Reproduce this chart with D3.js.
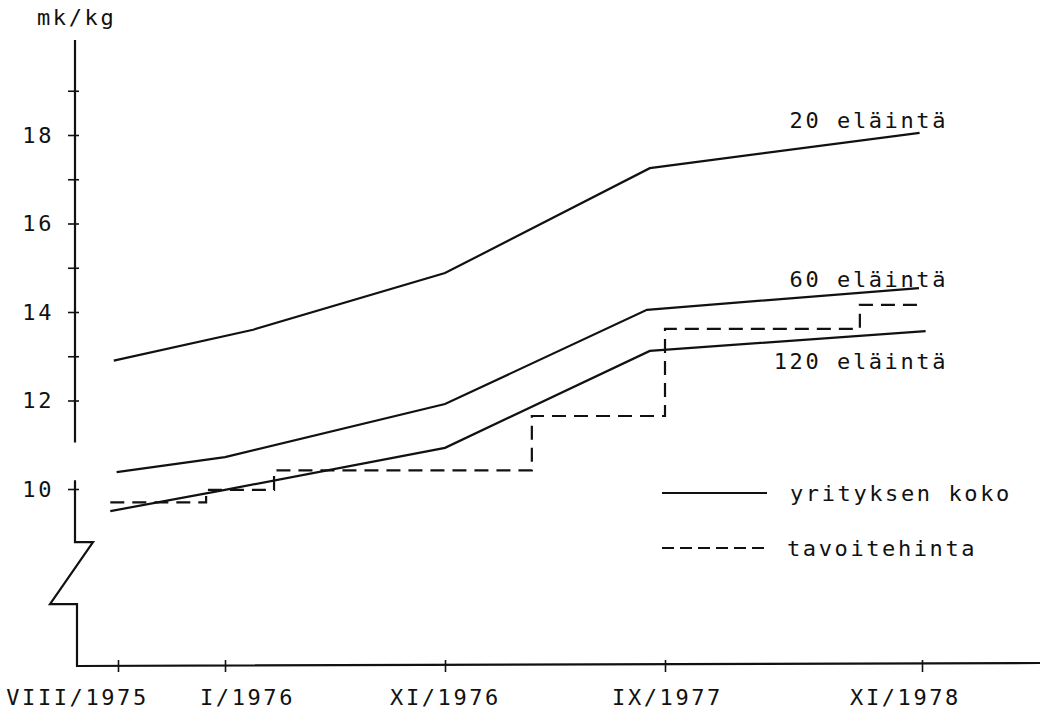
<!DOCTYPE html>
<html>
<head>
<meta charset="utf-8">
<script src="https://cdn.jsdelivr.net/npm/d3@7"></script>
<style>
  body { margin: 0; background: #fff; }
  svg text { font-family: "DejaVu Sans Mono", "Liberation Mono", monospace; font-size: 22px; letter-spacing: 2.6px; fill: #111; }
  .c-line path { fill: none; stroke: #111; stroke-width: 2.2; }
  .dotted-line path { fill: none; stroke: #111; stroke-width: 2.2; stroke-dasharray: 14, 8; }
</style>
</head>
<body>
<div id="chart"></div>
<script>
// tick labels of the time axis and the dates they stand for
const monthLabels = ['VIII/1975', 'I/1976', 'XI/1976', 'IX/1977', 'XI/1978'];
const monthDates = ['1975-08-01', '1976-01-01', '1976-11-01', '1977-09-01', '1978-11-01'];

// y ticks (mk/kg)
const yTicks = [10, 12, 13, 14, 15, 16, 17, 18, 19];
const yLabels = [10, 12, 14, 16, 18];

// yrityksen koko - price by farm size
const seriesNames = ['20 eläintä', '60 eläintä', '120 eläintä'];
const size20 = [
  { date: '1975-07-26', value: 12.9 },
  { date: '1976-02-09', value: 13.6 },
  { date: '1976-11-01', value: 14.88 },
  { date: '1977-08-11', value: 17.25 },
  { date: '1978-10-28', value: 18.05 }
];
const size60 = [
  { date: '1975-07-30', value: 10.38 },
  { date: '1976-01-01', value: 10.72 },
  { date: '1976-11-01', value: 11.92 },
  { date: '1977-08-07', value: 14.05 },
  { date: '1978-10-27', value: 14.54 }
];
const size120 = [
  { date: '1975-07-21', value: 9.5 },
  { date: '1976-01-01', value: 9.98 },
  { date: '1976-11-01', value: 10.93 },
  { date: '1977-08-11', value: 13.12 },
  { date: '1978-11-07', value: 13.57 }
];

// tavoitehinta - target price, changes at these dates
const targetDates = ['1975-07-21', '1975-12-05', '1976-03-09', '1977-03-01', '1977-09-01', '1978-07-21', '1978-11-01'];
const targetValues = [9.7, 9.98, 10.42, 11.65, 13.62, 14.16, 14.16];

const legendLabels = ['yrityksen koko', 'tavoitehinta'];

const parseDate = d3.timeParse('%Y-%m-%d');

class PriceChart {
  constructor(aims) {
    this.chartContainer = d3.select(aims);
    this.chart = null;
    this.chartWidth = 1043;
    this.chartHeight = 722;
    this.axisX = 75; // y axis position
    this.dateScale = null;
    this.priceScale = null;
  }

  render() {
    this.createSvg();
    this.initScales();
    this.drawAxes();
    this.drawLines();
    this.drawTarget();
    this.drawLabels();
    this.drawLegend();
  }

  createSvg() {
    this.chart = this.chartContainer
      .append('svg')
      .attr('width', this.chartWidth)
      .attr('height', this.chartHeight);
  }

  initScales() {
    // the original time axis is not even, so the scale is piecewise
    this.dateScale = d3.scaleTime()
      .domain(monthDates.map(parseDate))
      .range([118, 225, 445, 665, 922]);
    this.priceScale = d3.scaleLinear().domain([10, 18]).range([489, 135]);
  }

  drawAxes() {
    let y = this.priceScale;
    let x0 = this.axisX;
    let bottom = y(6);

    let yAxis = d3.axisLeft(y)
      .tickValues(yTicks)
      .tickSize(7)
      .tickPadding(14)
      .tickFormat(d => yLabels.includes(d) ? d : '');

    let gy = this.chart.append('g')
      .attr('class', 'c-axis')
      .attr('transform', 'translate(' + x0 + ', 0)')
      .call(yAxis);
    gy.select('.domain').remove();
    gy.selectAll('.tick line').attr('stroke', '#111').attr('stroke-width', 1.6);
    gy.selectAll('.tick').append('line')
      .attr('x2', 4)
      .attr('stroke', '#111')
      .attr('stroke-width', 1.6);
    gy.selectAll('.tick text').attr('font-size', null).attr('font-family', null);

    // broken y axis with a zigzag
    let axisPath = d3.path();
    axisPath.moveTo(x0, 40);
    axisPath.lineTo(x0, y(11.05));
    axisPath.moveTo(x0, y(10.2));
    axisPath.lineTo(x0, y(8.8));
    axisPath.lineTo(x0 + 18, y(8.8));
    axisPath.lineTo(x0 - 25, y(7.4));
    axisPath.lineTo(x0 + 2, y(7.4));
    axisPath.lineTo(x0 + 2, bottom);
    axisPath.lineTo(1040, bottom - 3);

    this.chart.append('path')
      .attr('d', axisPath.toString())
      .attr('fill', 'none')
      .attr('stroke', '#111')
      .attr('stroke-width', 2.2);

    let xAxis = d3.axisBottom(this.dateScale)
      .tickValues(monthDates.map(parseDate))
      .tickSize(6)
      .tickPadding(17)
      .tickFormat((d, i) => monthLabels[i]);

    let gx = this.chart.append('g')
      .attr('class', 'c-axis')
      .attr('transform', 'translate(0, ' + bottom + ')')
      .call(xAxis);
    gx.select('.domain').remove();
    gx.selectAll('.tick line').attr('y1', -6).attr('stroke', '#111').attr('stroke-width', 1.6);
    let labelShift = [-41, 22, 0, 2, -17];
    gx.selectAll('.tick text')
      .attr('font-size', null)
      .attr('font-family', null)
      .attr('dx', (d, i) => labelShift[i]);

    this.chart.append('text')
      .attr('x', 37)
      .attr('y', 25)
      .text('mk/kg');
  }

  drawLines() {
    let line = d3.line()
      .x(d => this.dateScale(parseDate(d.date)))
      .y(d => this.priceScale(d.value));

    this.chart.append('g')
      .attr('class', 'c-line')
      .selectAll('path')
      .data([size20, size60, size120])
      .enter()
      .append('path')
      .attr('d', d => line(d));
  }

  drawTarget() {
    let points = targetDates.map((d, i) => ({ date: parseDate(d), value: targetValues[i] }));
    let line = d3.line()
      .curve(d3.curveStepAfter)
      .x(d => this.dateScale(d.date))
      .y(d => this.priceScale(d.value));

    this.chart.append('g')
      .attr('class', 'dotted-line')
      .append('path')
      .attr('d', line(points));
  }

  drawLabels() {
    let ends = [size20, size60, size120].map(s => s[s.length - 1]);
    let labelDy = [-13, -9, 30]; // label offset from the end of its line
    this.chart.append('g')
      .selectAll('text')
      .data(seriesNames)
      .enter()
      .append('text')
      .attr('x', 948)
      .attr('y', (d, i) => this.priceScale(ends[i].value) + labelDy[i])
      .attr('dy', '0.36em')
      .attr('text-anchor', 'end')
      .text(d => d);
  }

  drawLegend() {
    let g = this.chart.append('g').attr('transform', 'translate(662, 493)');
    g.append('line')
      .attr('x2', 105)
      .attr('stroke', '#111')
      .attr('stroke-width', 2.2);
    g.append('line')
      .attr('y1', 55)
      .attr('y2', 55)
      .attr('x2', 105)
      .attr('stroke', '#111')
      .attr('stroke-width', 2.2)
      .attr('stroke-dasharray', '12, 6');
    g.selectAll('text')
      .data(legendLabels)
      .enter()
      .append('text')
      .attr('x', (d, i) => i === 0 ? 128 : 125)
      .attr('y', (d, i) => i * 55)
      .attr('dy', '0.36em')
      .text(d => d);
  }
}

new PriceChart('#chart').render();
</script>
</body>
</html>
